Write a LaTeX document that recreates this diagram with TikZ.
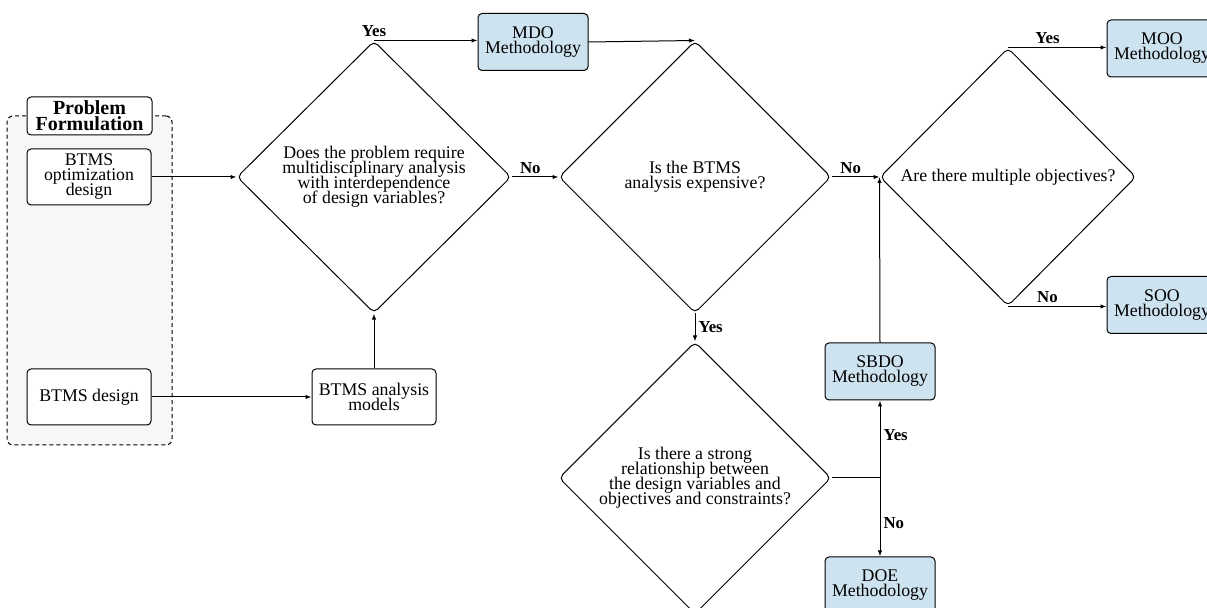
\documentclass[tikz,border=0pt]{standalone}
\usepackage{fontspec}
\setmainfont{Liberation Serif}
\usetikzlibrary{shapes.geometric,arrows.meta}
\definecolor{methfill}{RGB}{206,227,240}
\definecolor{groupfill}{RGB}{247,247,247}
% let stacked lines sit closer than their glyph boxes allow
\newcommand\tightlines{\lineskiplimit=-100pt\relax}
\begin{document}
\begin{tikzpicture}[x=0.5pt,y=-0.5pt,
  every node/.style={font=\fontsize{8.9}{7.5}\selectfont\tightlines},
  box/.style={draw, rounded corners=2pt, fill=white, minimum width=62pt,
    minimum height=28pt, align=center, inner sep=0pt, line width=0.5pt},
  meth/.style={box, fill=methfill, minimum width=55pt, minimum height=28.5pt},
  decision/.style={draw, diamond, rounded corners=2.5pt, align=center,
    inner sep=0pt, line width=0.5pt},
  flow/.style={-{Latex[length=3pt,width=2.2pt]}, line width=0.5pt},
  lab/.style={font=\fontsize{8.4}{9}\selectfont\bfseries, inner sep=1.5pt},
]
\useasboundingbox (0,0) rectangle (1207,608);
\clip (0,0) rectangle (1207,608);

% problem formulation group
\node (group) [draw, dash pattern=on 2pt off 1.5pt, rounded corners=3pt,
  fill=groupfill, line width=0.5pt, minimum width=82.5pt, minimum height=164.5pt,
  inner sep=0pt] at (89.5,280.5) {};
\node (pf) [box, font=\fontsize{10}{7.9}\selectfont\bfseries\tightlines,
  minimum width=62.5pt, minimum height=19pt] at (89.5,116) {Problem\\Formulation};
\node (opt) [box] at (89,177) {BTMS\\optimization\\design};
\node (des) [box] at (89,397) {BTMS design};
\node (ana) [box] at (374,397) {BTMS analysis\\models};

% decisions
\node (d1) [decision, minimum width=137pt, minimum height=136pt] at (374,177)
  {Does the problem require\\multidisciplinary analysis\\with interdependence\\of design variables?};
\node (d2) [decision, minimum width=136pt, minimum height=136pt] at (695,177)
  {Is the BTMS\\analysis expensive?};
\node (d3) [decision, minimum width=128pt, minimum height=129pt] at (1008,177)
  {Are there multiple objectives?};
\node (d4) [decision, minimum width=136pt, minimum height=136pt] at (695,478)
  {Is there a strong\\relationship between\\the design variables and\\objectives and constraints?};

% methodologies
\node (mdo) [meth] at (533,42) {MDO\\Methodology};
\node (moo) [meth] at (1162,48.5) {MOO\\Methodology};
\node (soo) [meth] at (1162,305) {SOO\\Methodology};
\node (sbdo) [meth] at (880,371.5) {SBDO\\Methodology};
\node (doe) [meth] at (880,585.5) {DOE\\Methodology};

% connectors
\draw[flow] (opt) -- (d1);
\draw[flow] (des) -- (ana);
\draw[flow] (ana) -- (d1);
\draw[flow] (d1.north) -- node[lab, above, pos=0] {Yes} (d1.north -| mdo.west);
\draw[flow] (mdo.east) -- (d2.north);
\draw[flow] (d1.east) -- node[lab, above, pos=0.4] {No} (d2.west);
\draw[flow] (d2.east) -- node[lab, above, pos=0.4] {No} (d3.west);
\draw[flow] (d2.south) -- node[lab, right] {Yes} (d4.north);
\coordinate (j) at (d4.east -| sbdo.south);
\draw[line width=0.5pt] (d4.east) -- (j);
\draw[flow] (j) -- node[lab, right, pos=0.55] {Yes} (sbdo.south);
\draw[flow] (j) -- node[lab, right, pos=0.58] {No} (doe.north);
\draw[flow] (sbdo.north) -- (d3.west);
\draw[flow] (d3.north) -- node[lab, above, pos=0.4] {Yes} (d3.north -| moo.west);
\draw[flow] (d3.south) -- node[lab, above, pos=0.4] {No} (d3.south -| soo.west);
\end{tikzpicture}
\end{document}
